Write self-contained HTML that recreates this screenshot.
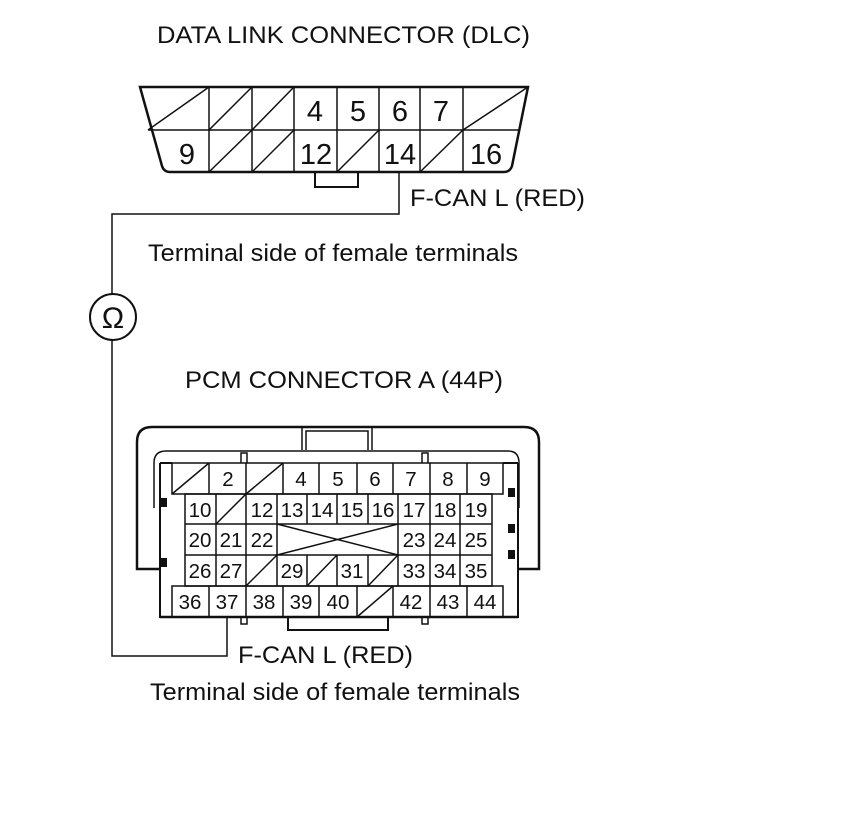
<!DOCTYPE html>
<html><head><meta charset="utf-8"><style>
html,body{margin:0;padding:0;background:#fff;}
svg{display:block;}
text{font-family:"Liberation Sans",Arial,sans-serif;fill:#111;}
</style></head><body>
<svg width="860" height="838" viewBox="0 0 860 838" xmlns="http://www.w3.org/2000/svg">
<g stroke="#111" fill="none" stroke-width="1.5">
<path d="M140,87 L528,87 L512,166 Q510,172 504,172 L170,172 Q164,172 162,166 Z" stroke-width="2.5"/>
<line x1="148" y1="130" x2="520" y2="130"/>
<line x1="209" y1="87" x2="209" y2="172"/>
<line x1="252" y1="87" x2="252" y2="172"/>
<line x1="294" y1="87" x2="294" y2="172"/>
<line x1="337" y1="87" x2="337" y2="172"/>
<line x1="379" y1="87" x2="379" y2="172"/>
<line x1="420" y1="87" x2="420" y2="172"/>
<line x1="463" y1="87" x2="463" y2="172"/>
<line x1="148" y1="130" x2="209" y2="87"/>
<line x1="209" y1="130" x2="252" y2="87"/>
<line x1="252" y1="130" x2="294" y2="87"/>
<line x1="463" y1="130" x2="528" y2="87"/>
<line x1="209" y1="172" x2="252" y2="130"/>
<line x1="252" y1="172" x2="294" y2="130"/>
<line x1="337" y1="172" x2="379" y2="130"/>
<line x1="420" y1="172" x2="463" y2="130"/>
<path d="M315,172 L315,187 L358,187 L358,172" stroke-width="2"/>
<path d="M399,172 L399,214 L112,214 L112,294"/>
<circle cx="113" cy="317" r="23" stroke-width="2"/>
<path d="M112,340 L112,656 L227,656 L227,617"/>
<path d="M160,569 L137,569 L137,442 Q137,427 152,427 L524,427 Q539,427 539,442 L539,569 L518,569" stroke-width="2.5"/>
<path d="M302,450 L302,427 M372,427 L372,450 M306,450 L306,431 L368,431 L368,450" stroke-width="1.5"/>
<path d="M154,508 L154,463 Q154,451 166,451 L508,451 Q519,451 519,463 L519,508"/>
<path d="M160,463 L160,617 L518,617 L518,463 M160,463 L172,463 M503,463 L518,463" stroke-width="2"/>
<line x1="160" y1="617" x2="518" y2="617" stroke-width="2.5"/>
<path d="M241,463 L241,453 L247,453 L247,463 M422,463 L422,453 L428,453 L428,463"/>
<path d="M241,617 L241,624 L247,624 L247,617 M422,617 L422,624 L428,624 L428,617"/>
<path d="M288,617 L288,630 L388,630 L388,617" stroke-width="2"/>
<path d="M172,463 L503,463 L503,494 L172,494 Z"/>
<path d="M209,463V494 M246,463V494 M283,463V494 M319,463V494 M357,463V494 M393,463V494 M430,463V494 M467,463V494"/>
<line x1="172" y1="494" x2="209" y2="463"/>
<line x1="246" y1="494" x2="283" y2="463"/>
<path d="M185,494 L492,494 L492,586 L185,586 Z"/>
<path d="M185,524H492 M185,555H492"/>
<path d="M216,494V586 M246,494V586 M277,494V586 M307,494V524 M337,494V524 M368,494V524 M398,494V586 M430,494V586 M460,494V586"/>
<path d="M307,555V586 M337,555V586 M368,555V586"/>
<line x1="216" y1="524" x2="246" y2="494"/>
<line x1="277" y1="524" x2="398" y2="555"/>
<line x1="277" y1="555" x2="398" y2="524"/>
<line x1="246" y1="586" x2="277" y2="555"/>
<line x1="307" y1="586" x2="337" y2="555"/>
<line x1="368" y1="586" x2="398" y2="555"/>
<path d="M172,586 L503,586 L503,617 L172,617 Z"/>
<path d="M209,586V617 M246,586V617 M283,586V617 M319,586V617 M357,586V617 M393,586V617 M430,586V617 M467,586V617"/>
<line x1="357" y1="617" x2="393" y2="586"/>
</g>
<g fill="#111">
<rect x="160" y="498" width="7" height="9"/>
<rect x="160" y="558" width="7" height="9"/>
<rect x="508" y="488" width="7" height="9"/>
<rect x="508" y="524" width="7" height="9"/>
<rect x="508" y="550" width="7" height="9"/>
</g>
<text x="157" y="43" font-size="24" textLength="373" lengthAdjust="spacingAndGlyphs">DATA LINK CONNECTOR (DLC)</text>
<g font-size="29" text-anchor="middle">
<text x="315" y="121">4</text><text x="358" y="121">5</text><text x="400" y="121">6</text><text x="441" y="121">7</text>
<text x="187" y="164">9</text><text x="316" y="164">12</text><text x="400" y="164">14</text><text x="486" y="164">16</text>
</g>
<text x="410" y="206" font-size="24" textLength="175" lengthAdjust="spacingAndGlyphs">F-CAN L (RED)</text>
<text x="148" y="261" font-size="24" textLength="370" lengthAdjust="spacingAndGlyphs">Terminal side of female terminals</text>
<text x="113" y="328" font-size="30" text-anchor="middle">Ω</text>
<text x="185" y="388" font-size="24" textLength="318" lengthAdjust="spacingAndGlyphs">PCM CONNECTOR A (44P)</text>
<g font-size="20.5" text-anchor="middle">
<text x="228" y="486">2</text><text x="301" y="486">4</text><text x="338" y="486">5</text><text x="375" y="486">6</text><text x="411" y="486">7</text><text x="448" y="486">8</text><text x="485" y="486">9</text>
<text x="200" y="517">10</text><text x="262" y="517">12</text><text x="292" y="517">13</text><text x="322" y="517">14</text><text x="352" y="517">15</text><text x="383" y="517">16</text><text x="414" y="517">17</text><text x="445" y="517">18</text><text x="476" y="517">19</text>
<text x="200" y="547">20</text><text x="231" y="547">21</text><text x="262" y="547">22</text><text x="414" y="547">23</text><text x="445" y="547">24</text><text x="476" y="547">25</text>
<text x="200" y="578">26</text><text x="231" y="578">27</text><text x="292" y="578">29</text><text x="352" y="578">31</text><text x="414" y="578">33</text><text x="445" y="578">34</text><text x="476" y="578">35</text>
<text x="190" y="609">36</text><text x="227" y="609">37</text><text x="264" y="609">38</text><text x="301" y="609">39</text><text x="338" y="609">40</text><text x="411" y="609">42</text><text x="448" y="609">43</text><text x="485" y="609">44</text>
</g>
<text x="238" y="663" font-size="24" textLength="175" lengthAdjust="spacingAndGlyphs">F-CAN L (RED)</text>
<text x="150" y="700" font-size="24" textLength="370" lengthAdjust="spacingAndGlyphs">Terminal side of female terminals</text>
</svg>
</body></html>
